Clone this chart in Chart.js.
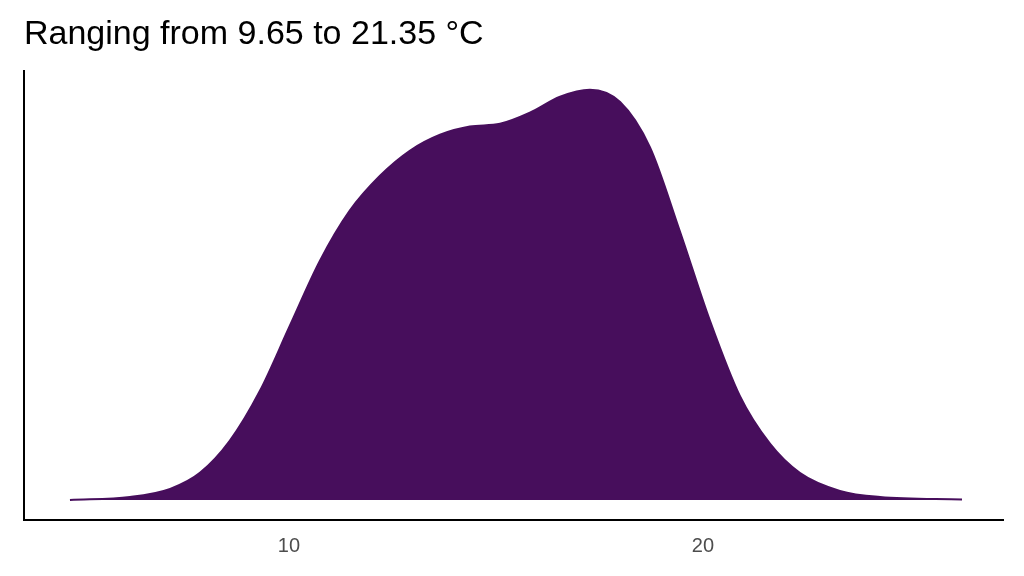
<!DOCTYPE html>
<html>
<head>
<meta charset="utf-8">
<script src="https://cdn.jsdelivr.net/npm/chart.js@4"></script>
<style>
  body { margin: 0; background: #fff; }
  #wrap { width: 1024px; height: 576px; }
</style>
</head>
<body>
<div id="wrap"><canvas id="c" width="1024" height="576"></canvas></div>
<script>
// temperature (°C) and relative density
var temps = [4.71, 6.16, 7.13, 7.85, 8.57, 9.3, 10.02, 10.75, 11.47, 12.2, 12.92, 13.65, 14.37, 15.1,
             15.82, 16.55, 17.27, 18.0, 18.72, 19.44, 20.17, 20.89, 21.62, 22.34, 23.31, 24.28, 26.26];
var density = [0, 0.007, 0.027, 0.066, 0.144, 0.266, 0.424, 0.583, 0.705, 0.79, 0.851, 0.89, 0.91, 0.917,
               0.944, 0.983, 1.0, 0.97, 0.86, 0.656, 0.437, 0.254, 0.137, 0.066, 0.022, 0.007, 0.001];
var xTicks = [10, 20];
var titleText = 'Ranging from 9.65 to 21.35 °C';

var points = temps.map(function (t, i) { return {x: t, y: density[i]}; });

var ctx = document.getElementById('c').getContext('2d');
var chart = new Chart(ctx, {
    type: 'line',
    data: {datasets: [{data: points,
                       fill: 'origin',
                       backgroundColor: '#470e5c',
                       borderColor: '#470e5c',
                       borderWidth: 2,
                       pointRadius: 0,
                       tension: 0.4,
                       cubicInterpolationMode: 'monotone'}]},
    options: {
        responsive: false,
        animation: false,
        layout: {padding: {left: 24, right: 21, top: 0, bottom: 12}},
        plugins: {
            legend: {display: false},
            tooltip: {enabled: false},
            title: {display: true, text: titleText, align: 'start', color: '#000',
                    font: {family: 'Liberation Sans', size: 34, weight: 'normal'},
                    padding: {top: 14, bottom: 16}}
        },
        scales: {
            x: {type: 'linear', min: 3.6, max: 27.25,
                grid: {display: false, drawTicks: true},
                border: {display: true, color: '#000', width: 2},
                afterBuildTicks: function (a) { a.ticks = xTicks.map(function (v) { return {value: v}; }); },
                ticks: {color: '#4d4d4d', font: {family: 'Liberation Sans', size: 20}, padding: 6}},
            y: {min: -0.049, max: 1.046,
                grid: {display: false},
                border: {display: true, color: '#000', width: 2},
                ticks: {display: false},
                afterFit: function (a) { a.width = 0; }}
        }
    }
});
</script>
</body>
</html>
